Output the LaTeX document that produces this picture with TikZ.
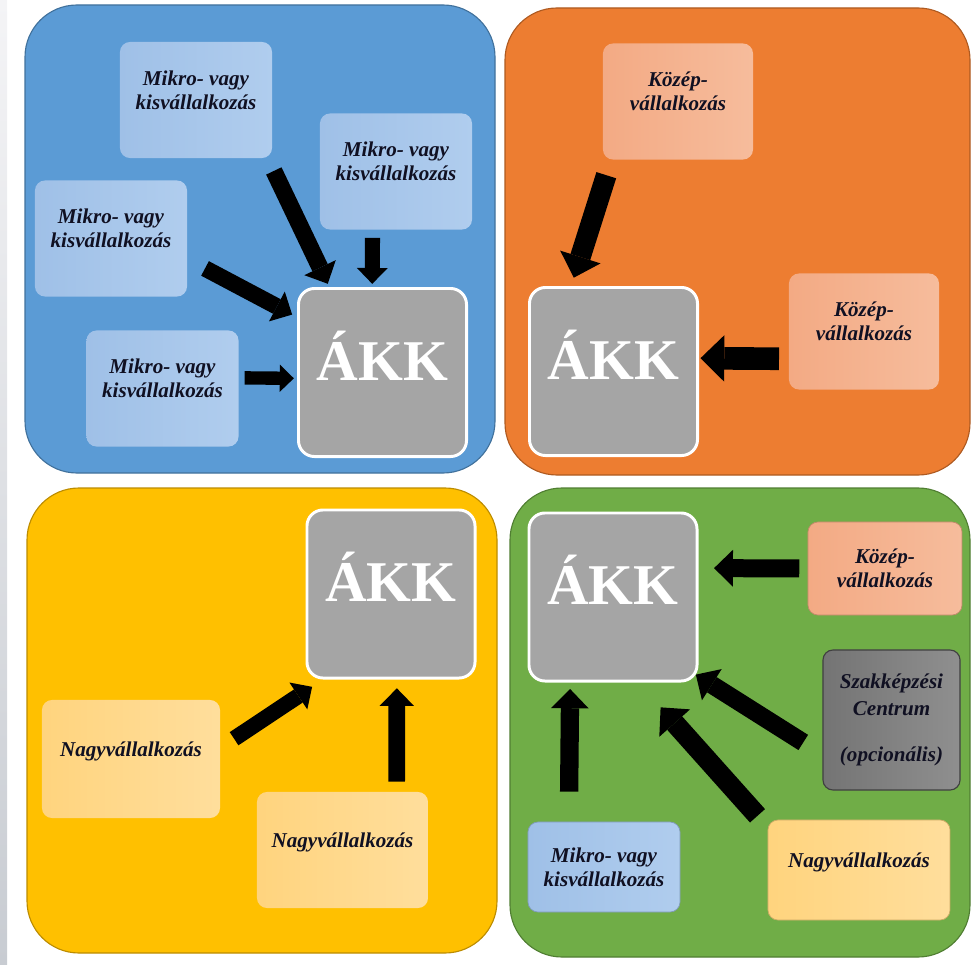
\documentclass[tikz,border=0pt]{standalone}
\usepackage{fontspec}
\setmainfont{Liberation Serif}
\usetikzlibrary{arrows.meta}

\definecolor{bluepanel}{HTML}{5B9BD5}
\definecolor{blueedge}{HTML}{41719C}
\definecolor{orangepanel}{HTML}{ED7D31}
\definecolor{orangeedge}{HTML}{AE5A21}
\definecolor{yellowpanel}{HTML}{FFC000}
\definecolor{yellowedge}{HTML}{BC8C00}
\definecolor{greenpanel}{HTML}{70AD47}
\definecolor{greenedge}{HTML}{507E32}
\definecolor{blueA}{HTML}{9FC0E7}
\definecolor{blueB}{HTML}{B0CDEE}
\definecolor{salA}{HTML}{F3AA84}
\definecolor{salB}{HTML}{F6BC9C}
\definecolor{yelA}{HTML}{FFD47E}
\definecolor{yelB}{HTML}{FFDE9C}
\definecolor{grayA}{HTML}{747474}
\definecolor{grayB}{HTML}{8F8F8F}
\definecolor{akkgray}{HTML}{A5A5A5}
\definecolor{txt}{HTML}{101022}
\definecolor{stripA}{HTML}{F4F4F6}
\definecolor{stripB}{HTML}{C8CCD2}

% empty line under the text, as in the slide
\newcommand{\lift}{\\[-3pt]\mbox{}}

\begin{document}
\begin{tikzpicture}[x=0.025cm,y=-0.025cm,
  panel/.style={rounded corners=1.3cm,line width=0.8pt},
  firm/.style={rectangle,rounded corners=0.25cm,minimum width=3.8cm,minimum height=2.9cm,
    inner sep=2pt,outer sep=0pt,align=center,text=txt,
    font=\bfseries\itshape\fontsize{15}{17.2}\selectfont},
  bluebox/.style={left color=blueA,right color=blueB},
  salbox/.style={left color=salA,right color=salB},
  yelbox/.style={left color=yelA,right color=yelB},
  akk/.style={rectangle,rounded corners=0.4cm,draw=white,line width=2.1pt,fill=akkgray,
    minimum size=4.2cm,outer sep=0pt,text=white,font=\bfseries\fontsize{41}{47}\selectfont,
    text height=36pt,text depth=25pt},
  flow/.style={line width=#1,-{Triangle[length=0pt 1.05,width=0pt 2.05,line width=0pt]}},
  flow/.default=12pt]
  \useasboundingbox (0,0) rectangle (974,965);
  \shade[top color=stripA,bottom color=stripB] (0,0) rectangle (7,965);

  % Panels
  \draw[panel,fill=bluepanel,draw=blueedge] (25,5) rectangle (495,473);
  \draw[panel,fill=orangepanel,draw=orangeedge] (505,8) rectangle (970,475);
  \draw[panel,fill=yellowpanel,draw=yellowedge] (27,488) rectangle (497,953);
  \draw[panel,fill=greenpanel,draw=greenedge] (510,488) rectangle (970,957);

  % Micro and small firms
  \node[firm,bluebox] (b1) at (196,100) {Mikro- vagy\\kisvállalkozás\lift};
  \node[firm,bluebox] (b2) at (396,171.5) {Mikro- vagy\\kisvállalkozás\lift};
  \node[firm,bluebox] (b3) at (111,238.5) {Mikro- vagy\\kisvállalkozás\lift};
  \node[firm,bluebox] (b4) at (162.5,388.5) {Mikro- vagy\\kisvállalkozás\lift};
  \node[akk] (akk1) at (382.5,372.5) {ÁKK};
  \draw[flow=12.1pt,shorten <=10.2pt,shorten >=3.7pt] (b1.-39) -- (akk1.122);
  \draw[flow=10.7pt,shorten <=5.9pt,shorten >=3.3pt] (b2.-112) -- (akk1.97);
  \draw[flow=11.7pt,shorten <=14.5pt,shorten >=5.1pt] (b3.-15) -- (akk1.147);
  \draw[flow=9.5pt,shorten <=4.3pt,shorten >=3.3pt] (b4.8) -- (akk1.-176);

  % Medium firms
  \node[firm,salbox,minimum width=3.75cm] (o1) at (678,101.5) {Közép-\\vállalkozás\lift};
  \node[firm,salbox,minimum width=3.75cm] (o2) at (864,331.5) {Közép-\\vállalkozás\lift};
  \node[akk] (akk2) at (613.5,371.5) {ÁKK};
  \draw[flow=14.7pt,shorten <=11.7pt,shorten >=7.3pt] (o1.-139) -- (akk2.117);
  \draw[flow=16.1pt,shorten <=7.1pt,shorten >=2.1pt] (o2.-160) -- (akk2.9);

  % Large firms
  \node[firm,yelbox,minimum width=4.45cm,minimum height=2.95cm] (y1) at (131,759) {Nagyvállalkozás\lift};
  \node[firm,yelbox,minimum width=4.275cm] (y2) at (342.5,850) {Nagyvállalkozás\lift};
  \node[akk] (akk3) at (391,594) {ÁKK};
  \draw[flow=11.2pt,shorten <=12pt,shorten >=11.3pt] (y1.7) -- (akk3.-128);
  \draw[flow=11.9pt,shorten <=7.3pt,shorten >=7.3pt] (y2.47) -- (akk3.-86);

  % Mixed group
  \node[firm,salbox,draw=salA!80!black,line width=0.5pt,minimum width=3.85cm,minimum height=2.325cm] (g1) at (885,568.5) {Közép-\\vállalkozás};
  \node[firm,left color=grayA,right color=grayB,draw=black!75,line width=0.8pt,minimum width=3.425cm,minimum height=3.5cm] (g2) at (891.5,720) {Szakképzési\\[2pt]Centrum\\[15pt](opcionális)};
  \node[firm,bluebox,draw=blueA!80!black,line width=0.5pt,minimum height=2.25cm] (g3) at (604,867) {Mikro- vagy\\kisvállalkozás};
  \node[firm,yelbox,draw=yelA!80!black,line width=0.5pt,minimum width=4.55cm,minimum height=2.5cm] (g4) at (859,870) {Nagyvállalkozás\lift};
  \node[akk] (akk4) at (613,597) {ÁKK};
  \draw[flow=12.8pt,shorten <=6.2pt,shorten >=12.1pt] (g1.west) -- (akk4.19);
  \draw[flow=12.8pt,shorten <=16.6pt,shorten >=-1pt] (g2.-153) -- (akk4.-43);
  \draw[flow=14.3pt,shorten <=11.2pt,shorten >=25.1pt] (g4.155) -- (akk4.-74);
  \draw[flow=13pt,shorten <=21.6pt,shorten >=5.7pt] (g3.128) -- (akk4.-117);
\end{tikzpicture}
\end{document}
